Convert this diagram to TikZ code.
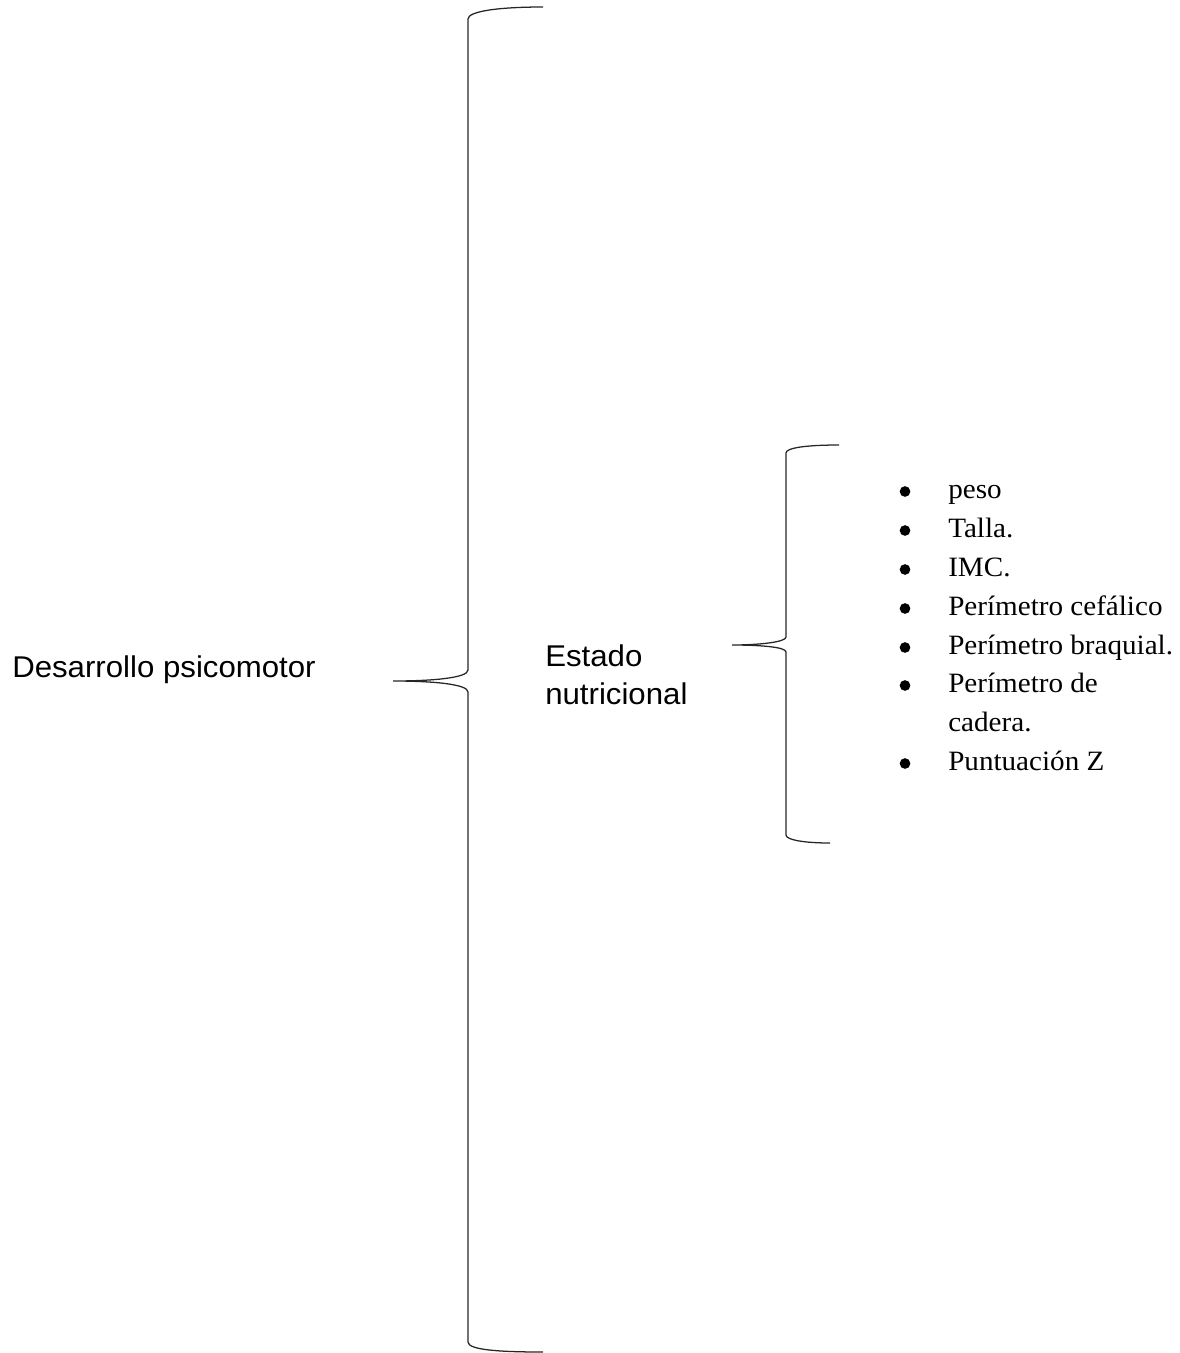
\documentclass[tikz,border=0pt]{standalone}
\usepackage{fontspec}
\setmainfont[FakeStretch=1.04]{Liberation Serif}
\newfontfamily\arialf[FakeStretch=1.04]{Liberation Sans}
\begin{document}
\begin{tikzpicture}[x=0.75pt,y=-0.75pt,
  brace/.style={line width=0.95pt,black!85},
  sanslabel/.style={anchor=base west,inner sep=0,font=\arialf\fontsize{22.5pt}{28.5pt}\selectfont},
  item/.style={anchor=base west,inner sep=0,font=\fontsize{21pt}{29pt}\selectfont},
  dot/.style={circle,fill=black,inner sep=0,minimum size=8pt}]
\useasboundingbox (0,0) rectangle (1179,1353);
% labels
\node[sanslabel] (dp) at (12,677) {Desarrollo psicomotor};
\node[sanslabel] (en1) at (545,666) {Estado};
\node[sanslabel] (en2) at (545,704) {nutricional};
% big brace
\coordinate (bt) at (543,7);
\coordinate (btip) at (393,681);
\coordinate (bb) at (543,1352);
\draw[brace] (bt) .. controls (500,7) and (468,11) .. (468,19)
  -- (468,670) .. controls (468,678) and (432,681) .. (btip)
  .. controls (432,681) and (468,684) .. (468,692)
  -- (468,1342) .. controls (468,1350) and (500,1352) .. (bb);
% small brace
\coordinate (st) at (839,445);
\coordinate (stip) at (732,645);
\coordinate (sb) at (830,843);
\draw[brace] (st) .. controls (805,445) and (786,448) .. (786,453)
  -- (786,637) .. controls (786,642) and (760,645) .. (stip)
  .. controls (760,645) and (786,647) .. (786,652)
  -- (786,835) .. controls (786,840) and (805,843) .. (sb);
% bullet list
\foreach \n/\y/\t in {1/498/peso,2/537/Talla.,3/576/IMC.,4/615/Perímetro cefálico,5/654/Perímetro braquial.,6/692/Perímetro de,8/770/Puntuación Z}{
  \node[dot] (b\n) at (905,\y-6.5) {};
  \node[item] (i\n) at (948,\y) {\t};
}
\node[item] (i7) at (948,731) {cadera.};
\end{tikzpicture}
\end{document}
